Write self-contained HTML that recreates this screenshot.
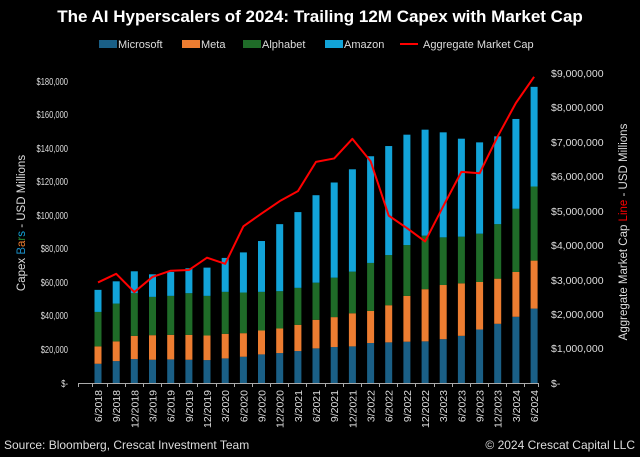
<!DOCTYPE html>
<html><head><meta charset="utf-8"><style>
html,body{margin:0;padding:0;background:#000;}
svg{display:block;font-family:"Liberation Sans",sans-serif;}
</style></head><body>
<svg width="640" height="457" viewBox="0 0 640 457" xmlns="http://www.w3.org/2000/svg">
<rect width="640" height="457" fill="#000"/>
<text x="320" y="22" fill="#fff" font-size="17" font-weight="bold" text-anchor="middle">The AI Hyperscalers of 2024: Trailing 12M Capex with Market Cap</text>
<g font-size="11" fill="#ddd">
<rect x="99" y="40" width="18" height="8" fill="#1a5f86"/><text x="118" y="48">Microsoft</text>
<rect x="182" y="40" width="18" height="8" fill="#ed7d31"/><text x="201" y="48">Meta</text>
<rect x="243" y="40" width="18" height="8" fill="#1f6b28"/><text x="262" y="48">Alphabet</text>
<rect x="325" y="40" width="18" height="8" fill="#12a3d8"/><text x="344" y="48">Amazon</text>
<line x1="400" y1="44" x2="418" y2="44" stroke="#f00" stroke-width="2"/><text x="423" y="48">Aggregate Market Cap</text>
</g>
<g transform="translate(68,0) scale(0.72,1)" font-size="10.5" fill="#ddd" text-anchor="end">
<text x="0" y="85">$180,000</text><text x="0" y="118">$160,000</text><text x="0" y="152">$140,000</text><text x="0" y="185">$120,000</text><text x="0" y="219">$100,000</text><text x="0" y="252">$80,000</text><text x="0" y="286">$60,000</text><text x="0" y="319">$40,000</text><text x="0" y="353">$20,000</text><text x="0" y="387">$-</text>
</g>
<g font-size="10.5" fill="#ddd">
<text x="551" y="77">$9,000,000</text><text x="551" y="111">$8,000,000</text><text x="551" y="146">$7,000,000</text><text x="551" y="180">$6,000,000</text><text x="551" y="215">$5,000,000</text><text x="551" y="249">$4,000,000</text><text x="551" y="284">$3,000,000</text><text x="551" y="318">$2,000,000</text><text x="551" y="352">$1,000,000</text><text x="551" y="387">$-</text>
</g>
<text transform="translate(25,223) rotate(-90)" font-size="11.5" fill="#ddd" text-anchor="middle">Capex <tspan fill="#1a8fc8">B</tspan><tspan fill="#ed7d31">a</tspan><tspan fill="#2a8a35">r</tspan><tspan fill="#12a3d8">s</tspan> - USD Millions</text>
<text transform="translate(627,232) rotate(-90)" font-size="11.5" fill="#ddd" text-anchor="middle">Aggregate Market Cap <tspan fill="#f00">Line</tspan> - USD Millions</text>
<g transform="translate(0,383) scale(1,-1.6722)">
<g fill="#1a5f86">
<rect x="94.5" y="0" width="7" height="11.5"/><rect x="112.7" y="0" width="7" height="13.1"/><rect x="130.8" y="0" width="7" height="14.3"/><rect x="149" y="0" width="7" height="13.9"/><rect x="167.2" y="0" width="7" height="14.1"/><rect x="185.4" y="0" width="7" height="13.9"/><rect x="203.5" y="0" width="7" height="13.7"/><rect x="221.7" y="0" width="7" height="14.7"/><rect x="239.9" y="0" width="7" height="15.7"/><rect x="258" y="0" width="7" height="17.1"/><rect x="276.2" y="0" width="7" height="17.9"/><rect x="294.4" y="0" width="7" height="19.1"/><rect x="312.5" y="0" width="7" height="20.7"/><rect x="330.7" y="0" width="7" height="21.5"/><rect x="348.9" y="0" width="7" height="21.9"/><rect x="367.1" y="0" width="7" height="23.9"/><rect x="385.2" y="0" width="7" height="24.3"/><rect x="403.4" y="0" width="7" height="24.7"/><rect x="421.6" y="0" width="7" height="24.9"/><rect x="439.7" y="0" width="7" height="26.2"/><rect x="457.9" y="0" width="7" height="28.2"/><rect x="476.1" y="0" width="7" height="32"/><rect x="494.2" y="0" width="7" height="35.4"/><rect x="512.4" y="0" width="7" height="39.6"/><rect x="530.6" y="0" width="7" height="44.5"/>
</g>
<g fill="#ed7d31">
<rect x="94.5" y="11.5" width="7" height="10.4"/><rect x="112.7" y="13.1" width="7" height="11.8"/><rect x="130.8" y="14.3" width="7" height="13.9"/><rect x="149" y="13.9" width="7" height="14.7"/><rect x="167.2" y="14.1" width="7" height="14.7"/><rect x="185.4" y="13.9" width="7" height="14.9"/><rect x="203.5" y="13.7" width="7" height="14.7"/><rect x="221.7" y="14.7" width="7" height="14.7"/><rect x="239.9" y="15.7" width="7" height="14.1"/><rect x="258" y="17.1" width="7" height="14.3"/><rect x="276.2" y="17.9" width="7" height="14.7"/><rect x="294.4" y="19.1" width="7" height="15.7"/><rect x="312.5" y="20.7" width="7" height="17.1"/><rect x="330.7" y="21.5" width="7" height="17.9"/><rect x="348.9" y="21.9" width="7" height="19.8"/><rect x="367.1" y="23.9" width="7" height="19.2"/><rect x="385.2" y="24.3" width="7" height="22.2"/><rect x="403.4" y="24.7" width="7" height="27.4"/><rect x="421.6" y="24.9" width="7" height="31.2"/><rect x="439.7" y="26.2" width="7" height="32.4"/><rect x="457.9" y="28.2" width="7" height="31.4"/><rect x="476.1" y="32" width="7" height="28.4"/><rect x="494.2" y="35.4" width="7" height="27"/><rect x="512.4" y="39.6" width="7" height="26.8"/><rect x="530.6" y="44.5" width="7" height="28.7"/>
</g>
<g fill="#1f6b28">
<rect x="94.5" y="21.9" width="7" height="20.6"/><rect x="112.7" y="24.9" width="7" height="22.6"/><rect x="130.8" y="28.2" width="7" height="25.5"/><rect x="149" y="28.6" width="7" height="22.9"/><rect x="167.2" y="28.8" width="7" height="23.3"/><rect x="185.4" y="28.8" width="7" height="24.9"/><rect x="203.5" y="28.4" width="7" height="23.7"/><rect x="221.7" y="29.4" width="7" height="25.1"/><rect x="239.9" y="29.8" width="7" height="24.3"/><rect x="258" y="31.4" width="7" height="23.1"/><rect x="276.2" y="32.6" width="7" height="22.3"/><rect x="294.4" y="34.8" width="7" height="22.1"/><rect x="312.5" y="37.8" width="7" height="22.2"/><rect x="330.7" y="39.4" width="7" height="23.6"/><rect x="348.9" y="41.7" width="7" height="24.9"/><rect x="367.1" y="43.1" width="7" height="28.7"/><rect x="385.2" y="46.5" width="7" height="30"/><rect x="403.4" y="52.1" width="7" height="30.4"/><rect x="421.6" y="56.1" width="7" height="32"/><rect x="439.7" y="58.6" width="7" height="28.5"/><rect x="457.9" y="59.6" width="7" height="27.9"/><rect x="476.1" y="60.4" width="7" height="28.9"/><rect x="494.2" y="62.4" width="7" height="32.6"/><rect x="512.4" y="66.4" width="7" height="37.8"/><rect x="530.6" y="73.2" width="7" height="44.3"/>
</g>
<g fill="#12a3d8">
<rect x="94.5" y="42.5" width="7" height="13.2"/><rect x="112.7" y="47.5" width="7" height="13.3"/><rect x="130.8" y="53.7" width="7" height="13.1"/><rect x="149" y="51.5" width="7" height="13.5"/><rect x="167.2" y="52.1" width="7" height="14.3"/><rect x="185.4" y="53.7" width="7" height="14.9"/><rect x="203.5" y="52.1" width="7" height="16.9"/><rect x="221.7" y="54.5" width="7" height="20.3"/><rect x="239.9" y="54.1" width="7" height="24"/><rect x="258" y="54.5" width="7" height="30.4"/><rect x="276.2" y="54.9" width="7" height="40.1"/><rect x="294.4" y="56.9" width="7" height="45.3"/><rect x="312.5" y="60" width="7" height="52.3"/><rect x="330.7" y="63" width="7" height="56.9"/><rect x="348.9" y="66.6" width="7" height="61.2"/><rect x="367.1" y="71.8" width="7" height="63.8"/><rect x="385.2" y="76.5" width="7" height="65.2"/><rect x="403.4" y="82.5" width="7" height="66"/><rect x="421.6" y="88.1" width="7" height="63.4"/><rect x="439.7" y="87.1" width="7" height="62.8"/><rect x="457.9" y="87.5" width="7" height="58.6"/><rect x="476.1" y="89.3" width="7" height="54.6"/><rect x="494.2" y="95" width="7" height="52.5"/><rect x="512.4" y="104.2" width="7" height="53.7"/><rect x="530.6" y="117.5" width="7" height="59.6"/>
</g>
</g>
<g transform="translate(0,383) scale(1,-34.44)">
<polyline fill="none" stroke="#f00" stroke-width="2" vector-effect="non-scaling-stroke" stroke-linejoin="round" points="98,2.92 116.2,3.17 134.3,2.64 152.5,3.08 170.7,3.26 188.9,3.28 207,3.64 225.2,3.46 243.4,4.55 261.5,4.92 279.7,5.28 297.9,5.57 316,6.42 334.2,6.52 352.4,7.09 370.6,6.44 388.7,4.86 406.9,4.5 425.1,4.11 443.2,5.13 461.4,6.13 479.6,6.09 497.7,7.16 515.9,8.13 534.1,8.89"/>
</g>
<line x1="78" y1="383.5" x2="539" y2="383.5" stroke="#aaa" stroke-width="1"/>
<g stroke="#aaa" stroke-width="1">
<line x1="78.5" y1="383" x2="78.5" y2="387"/><line x1="92.5" y1="383" x2="92.5" y2="387"/><line x1="107.5" y1="383" x2="107.5" y2="387"/><line x1="125.5" y1="383" x2="125.5" y2="387"/><line x1="143.5" y1="383" x2="143.5" y2="387"/><line x1="161.5" y1="383" x2="161.5" y2="387"/><line x1="179.5" y1="383" x2="179.5" y2="387"/><line x1="197.5" y1="383" x2="197.5" y2="387"/><line x1="216.5" y1="383" x2="216.5" y2="387"/><line x1="234.5" y1="383" x2="234.5" y2="387"/><line x1="252.5" y1="383" x2="252.5" y2="387"/><line x1="270.5" y1="383" x2="270.5" y2="387"/><line x1="288.5" y1="383" x2="288.5" y2="387"/><line x1="306.5" y1="383" x2="306.5" y2="387"/><line x1="325.5" y1="383" x2="325.5" y2="387"/><line x1="343.5" y1="383" x2="343.5" y2="387"/><line x1="361.5" y1="383" x2="361.5" y2="387"/><line x1="379.5" y1="383" x2="379.5" y2="387"/><line x1="397.5" y1="383" x2="397.5" y2="387"/><line x1="415.5" y1="383" x2="415.5" y2="387"/><line x1="434.5" y1="383" x2="434.5" y2="387"/><line x1="452.5" y1="383" x2="452.5" y2="387"/><line x1="470.5" y1="383" x2="470.5" y2="387"/><line x1="488.5" y1="383" x2="488.5" y2="387"/><line x1="506.5" y1="383" x2="506.5" y2="387"/><line x1="524.5" y1="383" x2="524.5" y2="387"/><line x1="538.5" y1="383" x2="538.5" y2="387"/>
</g>
<g font-size="10.5" fill="#ddd" text-anchor="end">
<text transform="translate(102,390) rotate(-90)">6/2018</text>
<text transform="translate(120.2,390) rotate(-90)">9/2018</text>
<text transform="translate(138.3,390) rotate(-90)">12/2018</text>
<text transform="translate(156.5,390) rotate(-90)">3/2019</text>
<text transform="translate(174.7,390) rotate(-90)">6/2019</text>
<text transform="translate(192.9,390) rotate(-90)">9/2019</text>
<text transform="translate(211,390) rotate(-90)">12/2019</text>
<text transform="translate(229.2,390) rotate(-90)">3/2020</text>
<text transform="translate(247.4,390) rotate(-90)">6/2020</text>
<text transform="translate(265.5,390) rotate(-90)">9/2020</text>
<text transform="translate(283.7,390) rotate(-90)">12/2020</text>
<text transform="translate(301.9,390) rotate(-90)">3/2021</text>
<text transform="translate(320,390) rotate(-90)">6/2021</text>
<text transform="translate(338.2,390) rotate(-90)">9/2021</text>
<text transform="translate(356.4,390) rotate(-90)">12/2021</text>
<text transform="translate(374.6,390) rotate(-90)">3/2022</text>
<text transform="translate(392.7,390) rotate(-90)">6/2022</text>
<text transform="translate(410.9,390) rotate(-90)">9/2022</text>
<text transform="translate(429.1,390) rotate(-90)">12/2022</text>
<text transform="translate(447.2,390) rotate(-90)">3/2023</text>
<text transform="translate(465.4,390) rotate(-90)">6/2023</text>
<text transform="translate(483.6,390) rotate(-90)">9/2023</text>
<text transform="translate(501.7,390) rotate(-90)">12/2023</text>
<text transform="translate(519.9,390) rotate(-90)">3/2024</text>
<text transform="translate(538.1,390) rotate(-90)">6/2024</text>
</g>
<text x="4" y="449" font-size="12" fill="#ddd">Source: Bloomberg, Crescat Investment Team</text>
<text x="635" y="449" font-size="12" fill="#ddd" text-anchor="end">© 2024 Crescat Capital LLC</text>
</svg>
</body></html>
